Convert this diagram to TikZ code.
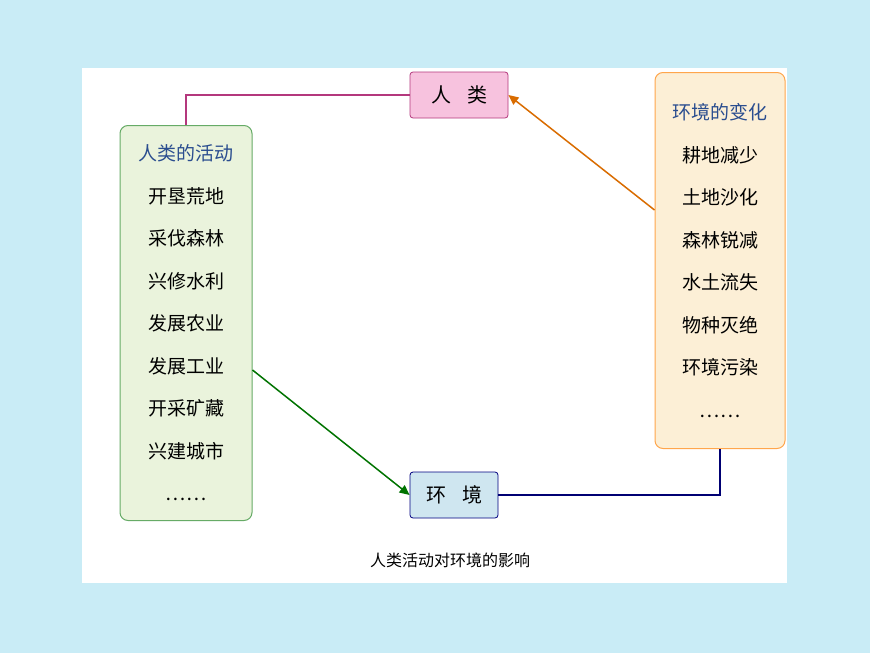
\documentclass[tikz,border=0pt]{standalone}
\usepackage{fontspec}
\setmainfont{Noto Sans CJK SC}
\usetikzlibrary{arrows.meta, positioning}
\definecolor{bgblue}{HTML}{C9ECF6}
\definecolor{listgreen}{HTML}{EAF3DC}
\definecolor{listorange}{HTML}{FCEFD6}
\definecolor{humanpink}{HTML}{F7C2DE}
\definecolor{envblue}{HTML}{CFE6F0}
\definecolor{titleblue}{HTML}{2A4D8F}

\begin{document}
\begin{tikzpicture}[x=1pt, y=-1pt,
    listbox/.style={rounded corners=8pt, line width=1pt, align=center, inner sep=6pt, font=\fontsize{19}{42.5}\selectfont},
    smallbox/.style={rounded corners=3pt, line width=0.8pt, minimum height=46pt, font=\fontsize{20}{24}\selectfont},
    link/.style={line width=1.5pt},
    tip/.style={-{Triangle[length=10pt, width=9pt]}}
]

% === BACKGROUND ===
\fill[bgblue] (0,0) rectangle (870,653);
\fill[white] (82,68) rectangle (787,583);
\useasboundingbox (0,0) rectangle (870,653);

% === BOXES ===
\node[smallbox, draw=magenta!70!black, fill=humanpink, minimum width=98pt] (human) at (459,95) {人\hspace{0.8em}类};
\node[smallbox, draw=blue!50!black, fill=envblue, minimum width=88pt] (env) at (454,495) {环\hspace{0.8em}境};

\node[listbox, draw=green!45!black!60, fill=listgreen, minimum width=132pt, minimum height=395pt, anchor=north] (acts) at (186,125)
    {\textcolor{titleblue}{人类的活动}\\ 开垦荒地\\ 采伐森林\\ 兴修水利\\ 发展农业\\ 发展工业\\ 开采矿藏\\ 兴建城市\\ ……};
\node[listbox, draw=orange!70, fill=listorange, minimum width=130pt, minimum height=376pt, anchor=north] (change) at (720,72)
    {\textcolor{titleblue}{环境的变化}\\ 耕地减少\\ 土地沙化\\ 森林锐减\\ 水土流失\\ 物种灭绝\\ 环境污染\\ ……};
\coordinate (actsout) at (acts.east |- 0,370);
\coordinate (changeout) at (change.west |- 0,210);

% === CONNECTORS ===
\draw[link, magenta!70!black] (acts.north) |- (human.west);
\draw[link, tip, orange!85!black] (changeout) -- (human.east);
\draw[link, tip, green!45!black] (actsout) -- (env.west);
\draw[link, blue!45!black] (change.south) |- (env.east);

% === CAPTION ===
\node[font=\fontsize{16}{18}\selectfont] (caption) at (450,560) {人类活动对环境的影响};

\end{tikzpicture}
\end{document}
